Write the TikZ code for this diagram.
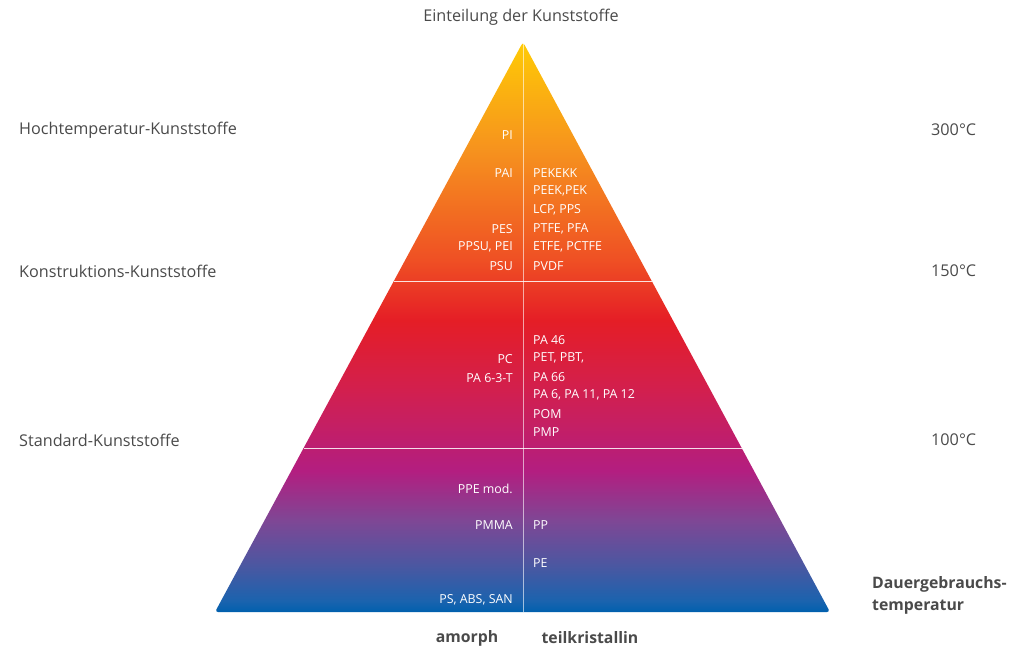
\documentclass[tikz,border=0pt]{standalone}
\usepackage{fontspec}
\setmainfont{Open Sans}
\definecolor{txt}{HTML}{4A4A4A}
\definecolor{cA}{HTML}{0060AE}
\definecolor{cB}{HTML}{1B63AE}
\definecolor{cC}{HTML}{4B57A1}
\definecolor{cD}{HTML}{7E4795}
\definecolor{cE}{HTML}{B31E80}
\definecolor{cF}{HTML}{D21F4E}
\definecolor{cG}{HTML}{E51E26}
\definecolor{cH}{HTML}{EF5024}
\definecolor{cI}{HTML}{F6921E}
\definecolor{cJ}{HTML}{FFCB05}
\pgfdeclareverticalshading{pyr}{100bp}{%
color(0bp)=(cA); color(25bp)=(cA); color(26bp)=(cB); color(29.1bp)=(cC);
color(33bp)=(cD); color(37.4bp)=(cE); color(44.5bp)=(cF); color(50.6bp)=(cG);
color(55.9bp)=(cH); color(65.5bp)=(cI); color(75bp)=(cJ); color(100bp)=(cJ)}
\tikzset{
  lbl/.style={text=txt, font=\fontsize{16.2}{19}\selectfont, inner sep=0pt},
  blbl/.style={text=txt, font=\fontsize{15.8}{19}\selectfont\bfseries, inner sep=0pt},
  inl/.style={text=white, font=\fontsize{12.4}{15}\selectfont, inner sep=0pt, anchor=east},
  inr/.style={text=white, font=\fontsize{12.4}{15}\selectfont, inner sep=0pt, anchor=west},
  sep/.style={draw=white, line width=1pt, draw opacity=0.85},
}
\begin{document}
\begin{tikzpicture}[x=1pt,y=-1pt]
\useasboundingbox (0,0) rectangle (1026,649);
% triangle
\coordinate (apex) at (523,42);
\coordinate (bl) at (215,612);
\coordinate (br) at (830,612);
\coordinate (bm) at (523,612);
\shade[shading=pyr, rounded corners=3] (apex) -- (bl) -- (br) -- cycle;
\coordinate (l1) at (394,281); \coordinate (r1) at (652,281);
\coordinate (l2) at (304,448); \coordinate (r2) at (742,448);
\draw[sep] (l1) -- (r1);
\draw[sep] (l2) -- (r2);
\draw[sep, draw opacity=0.6] (apex) -- (bm);
% titles
\node[lbl] (title) at (521,17) {Einteilung der Kunststoffe};
\node[lbl, anchor=west] (hk) at (19,130) {Hochtemperatur-Kunststoffe};
\node[lbl, anchor=west] (kk) at (19,271) {Konstruktions-Kunststoffe};
\node[lbl, anchor=west] (sk) at (19,440) {Standard-Kunststoffe};
\node[lbl, anchor=west] (t300) at (931,130) {300°C};
\node[lbl, anchor=west] (t150) at (931,271) {150°C};
\node[lbl, anchor=west] (t100) at (931,440) {100°C};
\node[blbl, anchor=west] (dg1) at (872,584) {Dauergebrauchs-};
\node[blbl, anchor=west] (dg2) at (872,607) {temperatur};
\node[blbl] (am) at (467,638) {amorph};
\node[blbl] (tk) at (590,638) {teilkristallin};
% left column
\node[inl] (pi) at (513,135) {PI};
\node[inl] (pai) at (513,173) {PAI};
\node[inl] (pes) at (513,229) {PES};
\node[inl] (ppsu) at (513,247) {PPSU, PEI};
\node[inl] (psu) at (513,266) {PSU};
\node[inl] (pc) at (513,359) {PC};
\node[inl] (pa63t) at (513,378) {PA 6-3-T};
\node[inl] (ppe) at (513,489) {PPE mod.};
\node[inl] (pmma) at (513,525) {PMMA};
\node[inl] (ps) at (513,600) {PS, ABS, SAN};
% right column
\node[inr] (pekekk) at (533,173) {PEKEKK};
\node[inr] (peek) at (533,191) {PEEK,PEK};
\node[inr] (lcp) at (533,210) {LCP, PPS};
\node[inr] (ptfe) at (533,229) {PTFE, PFA};
\node[inr] (etfe) at (533,247) {ETFE, PCTFE};
\node[inr] (pvdf) at (533,266) {PVDF};
\node[inr] (pa46) at (533,340) {PA 46};
\node[inr] (pet) at (533,358) {PET, PBT,};
\node[inr] (pa66) at (533,377) {PA 66};
\node[inr] (pa6) at (533,395) {PA 6, PA 11, PA 12};
\node[inr] (pom) at (533,414) {POM};
\node[inr] (pmp) at (533,432) {PMP};
\node[inr] (pp) at (533,525) {PP};
\node[inr] (pe) at (533,563) {PE};
\end{tikzpicture}
\end{document}
